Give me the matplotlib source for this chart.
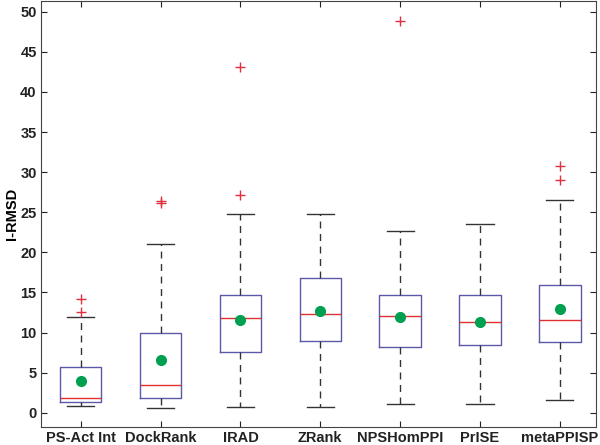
import matplotlib
matplotlib.use("Agg")
import matplotlib.pyplot as plt
import numpy as np

# I-RMSD summary per method
methods = ["PS-Act Int", "DockRank", "IRAD", "ZRank", "NPSHomPPI", "PrISE", "metaPPISP"]
q1 = [1.33, 1.82, 7.63, 8.91, 8.17, 8.42, 8.83]
med = [1.82, 3.40, 11.82, 12.27, 12.06, 11.32, 11.61]
q3 = [5.76, 9.91, 14.72, 16.83, 14.72, 14.63, 15.88]
whislo = [0.79, 0.62, 0.70, 0.70, 1.04, 1.04, 1.53]
whishi = [11.98, 21.0, 24.83, 24.83, 22.72, 23.51, 26.53]
means = [3.94, 6.55, 11.61, 12.69, 11.90, 11.32, 12.94]
fliers = [
    [12.6, 14.18],
    [26.15, 26.35],
    [27.2, 43.08],
    [],
    [48.8],
    [],
    [29.0, 30.8],
]

plt.rcParams["font.family"] = ["Liberation Sans", "DejaVu Sans"]

stats = []
for i in range(len(methods)):
    stats.append({
        "label": methods[i],
        "q1": q1[i], "med": med[i], "q3": q3[i],
        "whislo": whislo[i], "whishi": whishi[i],
        "fliers": fliers[i],
    })

fig = plt.figure(figsize=(6, 4.45), dpi=100)
ax = fig.add_axes([0.068, 0.04, 0.925, 0.957])

pos = np.arange(1, len(methods) + 1)
ax.bxp(stats, positions=pos, widths=0.52, capwidths=0.34, showfliers=True,
       boxprops=dict(color="#5a5aa8", linewidth=1.0),
       medianprops=dict(color="#e03030", linewidth=1.0),
       whiskerprops=dict(color="#333333", linewidth=1.0, linestyle=(0, (5, 4))),
       capprops=dict(color="#333333", linewidth=1.0),
       flierprops=dict(marker="+", markeredgecolor="#e03040", markersize=7,
                       markeredgewidth=1.0, linestyle="none"))

ax.plot(pos, means, "o", color="#00a050", markersize=7, zorder=5)

ax.set_xlim(0.5, 7.45)
ax.set_ylim(-1.8, 51.3)
ax.set_yticks(np.arange(0, 51, 5))
ax.set_xticks(pos)
ax.set_xticklabels(methods, fontweight="bold", fontsize=10.5)
for t in ax.get_yticklabels():
    t.set_fontweight("bold")
    t.set_fontsize(10.5)
ax.set_ylabel("I-RMSD", fontweight="bold", fontsize=10.5, labelpad=1)
ax.tick_params(direction="in", top=True, right=True, length=4, pad=3, colors="#222222")
for s in ax.spines.values():
    s.set_color("#444444")

fig.savefig("out.png", dpi=100)
